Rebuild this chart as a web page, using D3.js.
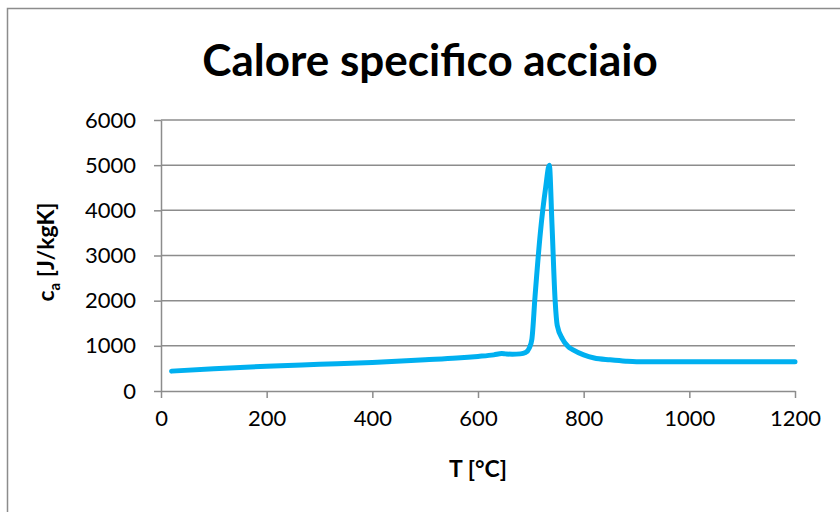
<!DOCTYPE html>
<html>
<head>
<meta charset="utf-8">
<script src="https://cdn.jsdelivr.net/npm/d3@7"></script>
<style>
  body { margin: 0; background: #fff; }
  text { font-family: Lato, "Open Sans", sans-serif; fill: #000; }
</style>
</head>
<body>
<div id="chart"></div>
<script>
// values
const temps = [20, 100, 200, 300, 400, 500, 560, 600, 630, 645, 652, 665, 680, 690, 697, 702, 708, 718, 728, 735, 740, 746, 750, 760, 770, 780, 800, 820, 850, 880, 900, 1000, 1100, 1200];
const heat  = [440, 495, 550, 590, 630, 690, 728, 765, 800, 828, 822, 815, 822, 850, 950, 1150, 2100, 3500, 4500, 5000, 3700, 2000, 1450, 1150, 990, 910, 800, 730, 690, 660, 650, 650, 650, 650];
const xTicks = [0, 200, 400, 600, 800, 1000, 1200];
const yTicks = [0, 1000, 2000, 3000, 4000, 5000, 6000];

const w = 840;
const h = 512;
const plotLeft = 161, plotRight = 795, plotTop = 120, plotBottom = 391;

const svg = d3.select('#chart')
    .append('svg')
    .attr('width', w)
    .attr('height', h);

// outer frame
svg.append('rect')
    .attr('x', 7.5)
    .attr('y', 8.5)
    .attr('width', 860)
    .attr('height', 540)
    .attr('fill', 'none')
    .attr('stroke', '#8c8c8c')
    .attr('stroke-width', 1.5);

const xScale = d3.scaleLinear().domain([0, 1200]).range([plotLeft, plotRight]);
const yScale = d3.scaleLinear().domain([0, 6000]).range([plotBottom, plotTop]);

// gridlines
svg.append('g')
    .selectAll('line')
    .data(yTicks.slice(1))
    .enter()
    .append('line')
    .attr('x1', plotLeft)
    .attr('x2', plotRight)
    .attr('y1', d => yScale(d))
    .attr('y2', d => yScale(d))
    .attr('stroke', '#8c8c8c')
    .attr('stroke-width', 1.5);

// axes
const xAxis = d3.axisBottom(xScale).tickValues(xTicks).tickFormat(d3.format('d'))
    .tickSize(7).tickSizeOuter(0).tickPadding(12);
const yAxis = d3.axisLeft(yScale).tickValues(yTicks).tickFormat(d3.format('d'))
    .tickSize(7).tickSizeOuter(0).tickPadding(18);

const gx = svg.append('g')
    .attr('transform', `translate(0, ${plotBottom})`)
    .call(xAxis);

const gy = svg.append('g')
    .attr('transform', `translate(${plotLeft}, 0)`)
    .call(yAxis);

[gx, gy].forEach(g => {
    g.selectAll('path, line').attr('stroke', '#8c8c8c').attr('stroke-width', 1.5);
    g.selectAll('text')
        .style('font-family', 'Lato, sans-serif')
        .style('font-size', '22px')
        .attr('fill', '#000');
});

// curve
const line = d3.line()
    .x((d, i) => xScale(temps[i]))
    .y(d => yScale(d))
    .curve(d3.curveMonotoneX);

svg.append('path')
    .datum(heat)
    .attr('d', line)
    .attr('fill', 'none')
    .attr('stroke', '#00b0f0')
    .attr('stroke-width', 5)
    .attr('stroke-linecap', 'round')
    .attr('stroke-linejoin', 'round');

// title
svg.append('text')
    .attr('x', 430)
    .attr('y', 76)
    .attr('text-anchor', 'middle')
    .style('font-size', '44px')
    .style('font-weight', 'bold')
    .text('Calore specifico acciaio');

// axis titles
svg.append('text')
    .attr('x', 478)
    .attr('y', 477)
    .attr('text-anchor', 'middle')
    .style('font-size', '23px')
    .style('font-weight', 'bold')
    .text('T [°C]');

const yLabel = svg.append('text')
    .attr('transform', `translate(54, 252) rotate(-90)`)
    .attr('text-anchor', 'middle')
    .style('font-size', '23px')
    .style('font-weight', 'bold');
yLabel.append('tspan').text('c');
yLabel.append('tspan').attr('dy', 6).style('font-size', '15px').text('a');
yLabel.append('tspan').attr('dy', -6).text(' [J/kgK]');
</script>
</body>
</html>
